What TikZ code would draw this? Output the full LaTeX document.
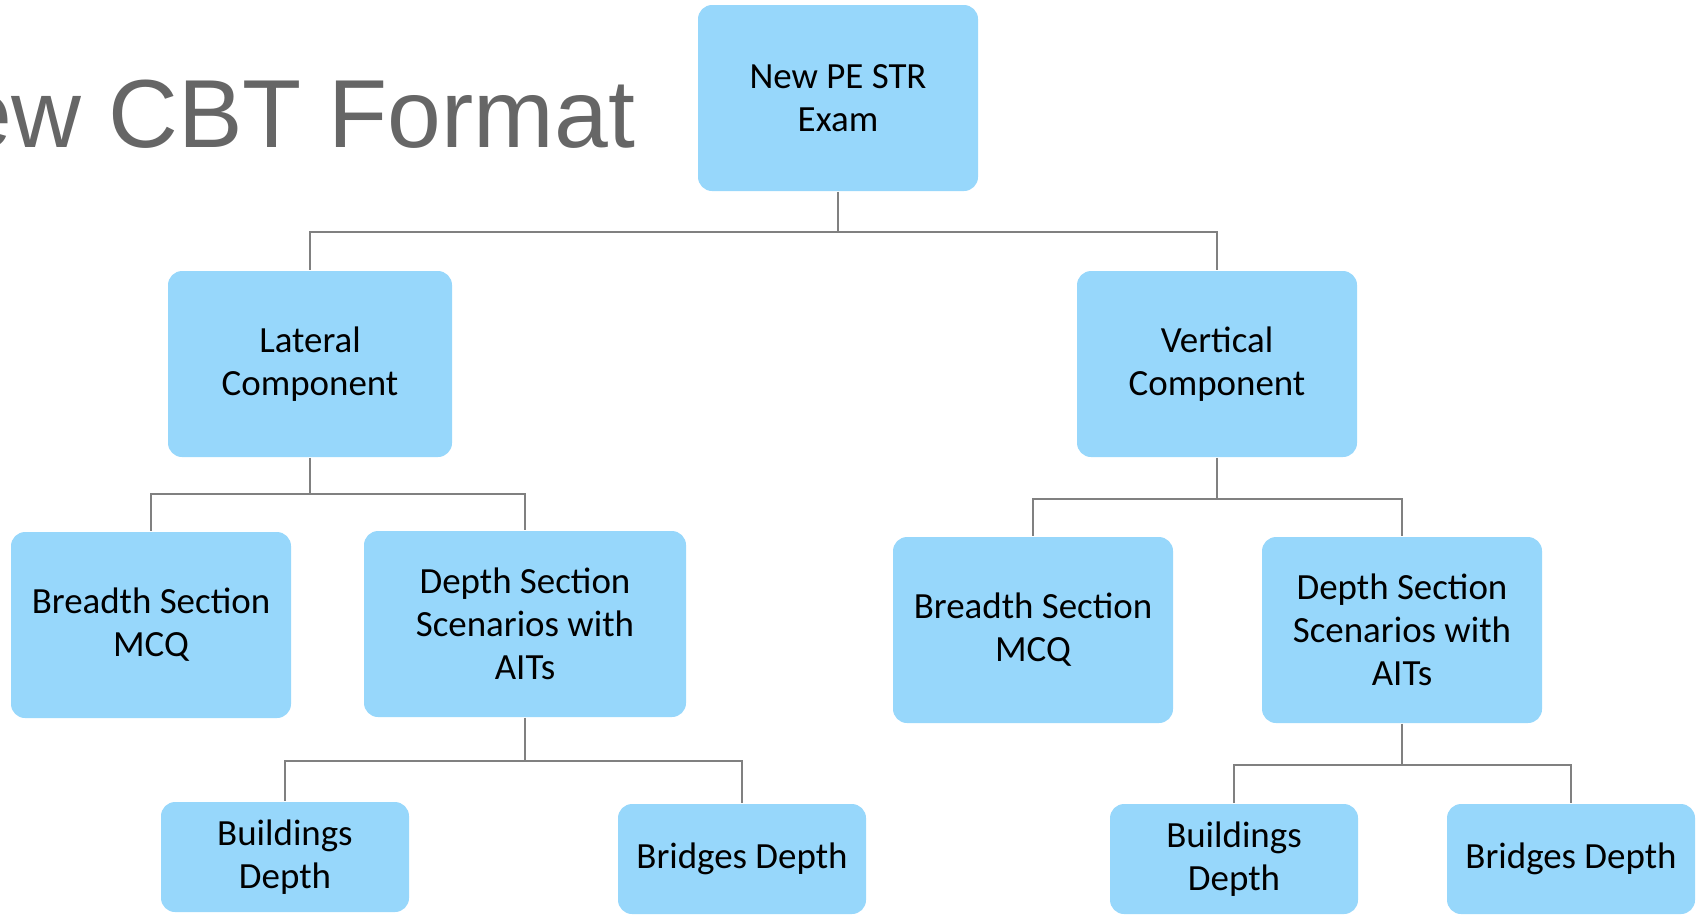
\documentclass[tikz,border=0pt]{standalone}
\usepackage{fontspec}
\setmainfont{Carlito}
\newfontfamily\titlefont{Liberation Sans}
\usepackage{tikz}
\definecolor{boxblue}{RGB}{151,215,251}
\definecolor{linegray}{RGB}{128,128,128}
\definecolor{titlegray}{RGB}{102,102,102}

\begin{document}
\begin{tikzpicture}[x=0.01cm, y=-0.01cm, line width=0.45pt]
   \useasboundingbox (0,0) rectangle (1704,914);
   \clip (0,0) rectangle (1704,914);
   \tikzstyle{main}=[rectangle, rounded corners=4pt, fill=boxblue, draw=none, align=center,
      minimum width=280*0.01cm, minimum height=186*0.01cm, inner sep=2pt,
      font=\fontsize{10.5}{12.2}\selectfont]
   \tikzstyle{leaf}=[main, minimum width=248*0.01cm, minimum height=110*0.01cm]
   \tikzstyle{link}=[draw=linegray]
   \node[anchor=base east, inner sep=0, text=titlegray, font=\titlefont\fontsize{27.5}{30}\selectfont] (title) at (636,147) {New CBT Format};
   \node[main] (exam) at (838,98) {New PE STR\\Exam};
   \node[main, minimum width=284*0.01cm] (lateral) at (310,364) {Lateral\\Component};
   \node[main] (vertical) at (1217,364) {Vertical\\Component};
   \node[main] (breadthL) at (151,625) {Breadth Section\\MCQ};
   \node[main, minimum width=322*0.01cm] (depthL) at (525,624) {Depth Section\\Scenarios with\\AITs};
   \node[main] (breadthR) at (1033,630) {Breadth Section\\MCQ};
   \node[main] (depthR) at (1402,630) {Depth Section\\Scenarios with\\AITs};
   \node[leaf] (buildL) at (285,857) {Buildings\\Depth};
   \node[leaf] (bridgeL) at (742,859) {Bridges Depth};
   \node[leaf] (buildR) at (1234,859) {Buildings\\Depth};
   \node[leaf] (bridgeR) at (1571,859) {Bridges Depth};
   % elbow connectors: parent/drop/child
   \foreach \p/\d/\c in {exam/40/lateral, exam/40/vertical,
                         lateral/36/breadthL, lateral/36/depthL,
                         vertical/41/breadthR, vertical/41/depthR,
                         depthL/43/buildL, depthL/43/bridgeL,
                         depthR/41/buildR, depthR/41/bridgeR} {
       \draw[link] (\p.south) -- ++(0,\d) -| (\c.north);
   }
\end{tikzpicture}
\end{document}
